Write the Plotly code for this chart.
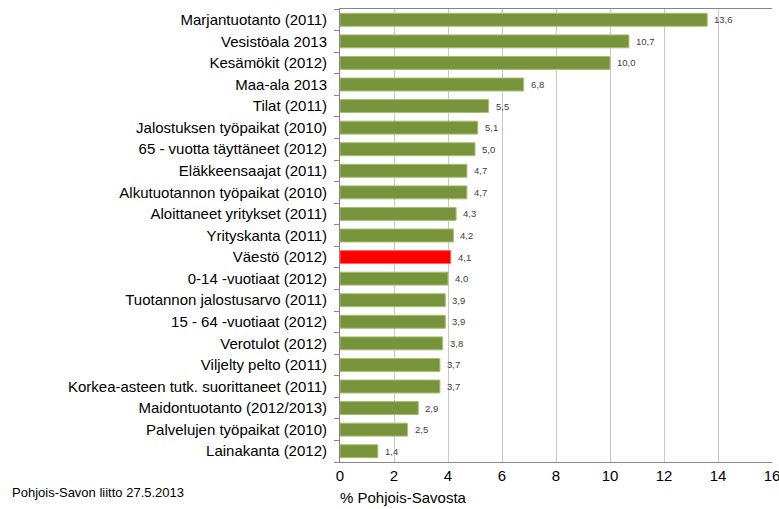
import plotly.graph_objects as go

categories = [
    "Marjantuotanto (2011)", "Vesistöala 2013", "Kesämökit (2012)", "Maa-ala 2013",
    "Tilat (2011)", "Jalostuksen työpaikat (2010)", "65 - vuotta täyttäneet (2012)",
    "Eläkkeensaajat (2011)", "Alkutuotannon työpaikat (2010)", "Aloittaneet yritykset (2011)",
    "Yrityskanta (2011)", "Väestö (2012)", "0-14 -vuotiaat (2012)",
    "Tuotannon jalostusarvo (2011)", "15 - 64 -vuotiaat (2012)", "Verotulot (2012)",
    "Viljelty pelto (2011)", "Korkea-asteen tutk. suorittaneet (2011)",
    "Maidontuotanto (2012/2013)", "Palvelujen työpaikat (2010)", "Lainakanta (2012)",
]
values = [13.6, 10.7, 10.0, 6.8, 5.5, 5.1, 5.0, 4.7, 4.7, 4.3, 4.2, 4.1, 4.0, 3.9, 3.9,
          3.8, 3.7, 3.7, 2.9, 2.5, 1.4]
highlight = "Väestö (2012)"
x_ticks = [0, 2, 4, 6, 8, 10, 12, 14, 16]

green = "#77933C"
red = "#FF0000"
colors = [red if c == highlight else green for c in categories]
line_colors = ["#FF6666" if c == highlight else "#A8C070" for c in categories]
labels = [f"{v:.1f}".replace(".", ",") for v in values]

W, H = 779, 509
ML, MR, MT, MB = 340, 7, 9, 47
plot_w = W - ML - MR
plot_h = H - MT - MB

fig = go.Figure(go.Bar(
    x=values, y=categories, orientation="h",
    marker=dict(color=colors, line=dict(color=line_colors, width=1)),
    width=0.6,
    hoverinfo="x+y",
))

annotations = [
    dict(x=v, y=c, xref="x", yref="y", text=t, showarrow=False,
         xanchor="left", yanchor="middle", xshift=5,
         font=dict(family="Liberation Sans, Arial", size=9.5, color="#404040"))
    for v, c, t in zip(values, categories, labels)
]
annotations += [
    dict(text="% Pohjois-Savosta", x=(338 - ML) / plot_w, xref="paper", xanchor="left",
         y=(H - MB - 497) / plot_h, yref="paper", yanchor="middle", showarrow=False,
         font=dict(size=15, color="#000000")),
    dict(text="Pohjois-Savon liitto 27.5.2013", x=(10 - ML) / plot_w, xref="paper",
         y=(H - MB - 493) / plot_h, yref="paper", showarrow=False,
         xanchor="left", yanchor="middle",
         font=dict(size=13, color="#000000")),
]

fig.update_layout(
    width=W, height=H,
    margin=dict(l=ML, r=MR, t=MT, b=MB, autoexpand=False),
    paper_bgcolor="white", plot_bgcolor="white",
    font=dict(family="Liberation Sans, Arial", size=15, color="#000000"),
    showlegend=False,
    xaxis=dict(
        range=[0, 16], tickvals=x_ticks, ticktext=[str(t) for t in x_ticks],
        showgrid=True, gridcolor="#C8C8C8", gridwidth=1,
        showline=True, linecolor="#868686", linewidth=1, mirror=True,
        ticks="", zeroline=False, automargin=False, ticklabeloverflow="allow",
        tickfont=dict(size=15, color="#000000"),
    ),
    yaxis=dict(
        categoryorder="array", categoryarray=categories[::-1],
        autorange=False, range=[-0.5, len(categories) - 0.5],
        showline=True, linecolor="#868686", linewidth=1, mirror=False,
        ticks="outside", tickson="boundaries", ticklen=5, tickcolor="#868686",
        showgrid=False, automargin=False, ticklabelstandoff=9,
        tickfont=dict(size=15, color="#000000"),
    ),
    annotations=annotations,
)

fig.write_html("out.html", config={"displayModeBar": False},
               post_script="document.body.style.margin='0';document.body.style.overflow='hidden';")
